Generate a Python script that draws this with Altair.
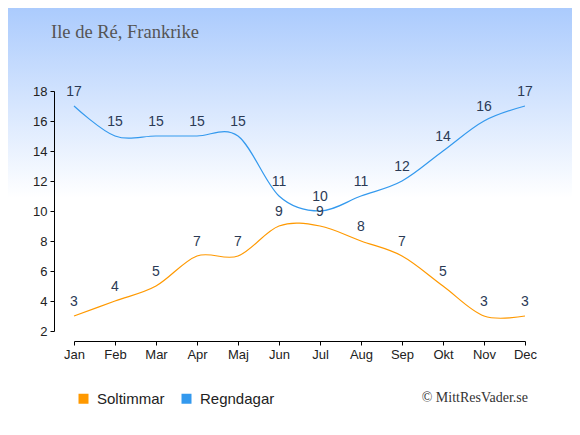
import altair as alt
import pandas as pd

months = ["Jan", "Feb", "Mar", "Apr", "Maj", "Jun", "Jul", "Aug", "Sep", "Okt", "Nov", "Dec"]
sun_hours = [3, 4, 5, 7, 7, 9, 9, 8, 7, 5, 3, 3]
rain_days = [17, 15, 15, 15, 15, 11, 10, 11, 12, 14, 16, 17]
series_names = ["Soltimmar", "Regndagar"]
series_colors = ["#ff9900", "#3399ee"]
y_ticks = [2, 4, 6, 8, 10, 12, 14, 16, 18]
title_text = "Ile de Ré, Frankrike"
credit_text = "© MittResVader.se"

rows = []
for name, vals in zip(series_names, [sun_hours, rain_days]):
    for m, v in zip(months, vals):
        rows.append({"month": m, "value": v, "series": name})
df = pd.DataFrame(rows)

W, H = 451, 240
PL, PT, PR, PB = 66, 83, 47, 90

color_scale = alt.Scale(domain=series_names, range=series_colors)

x_enc = alt.X(
    "month:N",
    sort=months,
    scale=alt.Scale(domain=months, padding=0),
    axis=alt.Axis(
        title=None, labelAngle=0, offset=10, tickSize=4, labelPadding=3,
        labelFontSize=13, labelFont="Liberation Sans", labelColor="#222",
        domainColor="#000", tickColor="#000", grid=False, zindex=1,
    ),
)
y_enc = alt.Y(
    "value:Q",
    scale=alt.Scale(domain=[2, 18], nice=False, zero=False),
    axis=alt.Axis(
        title=None, values=y_ticks, offset=20, tickSize=4, labelPadding=3,
        labelFontSize=13, labelFont="Liberation Sans", labelColor="#222",
        domainColor="#000", tickColor="#000", grid=False, zindex=1,
    ),
)

bg = alt.Chart(pd.DataFrame({"k": [0]})).mark_rect(
    fill=alt.Gradient(
        gradient="linear",
        stops=[
            alt.GradientStop(offset=0, color="#abcbfd"),
            alt.GradientStop(offset=0.46, color="#ffffff"),
            alt.GradientStop(offset=1, color="#ffffff"),
        ],
        x1=0, x2=0, y1=0, y2=1,
    ),
    clip=False,
).encode(
    x=alt.value(-PL), x2=alt.value(W + PR), y=alt.value(-PT), y2=alt.value(H + PB)
)

line_layers = [
    alt.Chart(df)
    .transform_filter(alt.datum.series == name)
    .mark_line(interpolate="cardinal", strokeWidth=1.2, color=col)
    .encode(x=x_enc, y=y_enc)
    for name, col in zip(series_names, series_colors)
]

pts = alt.Chart(df).mark_point(shape="square", filled=True, opacity=0).encode(
    x=x_enc,
    y=y_enc,
    fill=alt.Fill(
        "series:N",
        scale=color_scale,
        sort=series_names,
        legend=alt.Legend(
            orient="none", legendX=2, legendY=300, direction="horizontal",
            title=None, symbolType="square", symbolSize=100, symbolOpacity=1,
            symbolStrokeWidth=0, labelFont="Liberation Sans", labelFontSize=15,
            labelColor="#222", labelOffset=6, columnPadding=14, padding=0,
        ),
    ),
)

labels = alt.Chart(df).mark_text(
    dy=-14, fontSize=14, font="Liberation Sans", color="#2b3a55", baseline="middle"
).encode(x=x_enc, y=y_enc, text="value:Q")

title = alt.Chart(pd.DataFrame({"t": [title_text]})).mark_text(
    align="left", baseline="alphabetic", font="Liberation Serif", fontSize=18.5, color="#555"
).encode(x=alt.value(-23), y=alt.value(-53), text="t:N")

credit = alt.Chart(pd.DataFrame({"t": [credit_text]})).mark_text(
    align="right", baseline="middle", font="Liberation Serif", fontSize=14, color="#333"
).encode(x=alt.value(454), y=alt.value(307), text="t:N")

chart = (
    alt.layer(bg, *line_layers, pts, labels, title, credit)
    .properties(
        width=W,
        height=H,
        padding={"left": PL, "top": PT, "right": PR, "bottom": PB},
        autosize=alt.AutoSizeParams(type="none"),
    )
    .configure_view(stroke=None)
    .configure(background="white")
)

chart.save("out.html", embed_options={"renderer": "svg", "actions": False})
